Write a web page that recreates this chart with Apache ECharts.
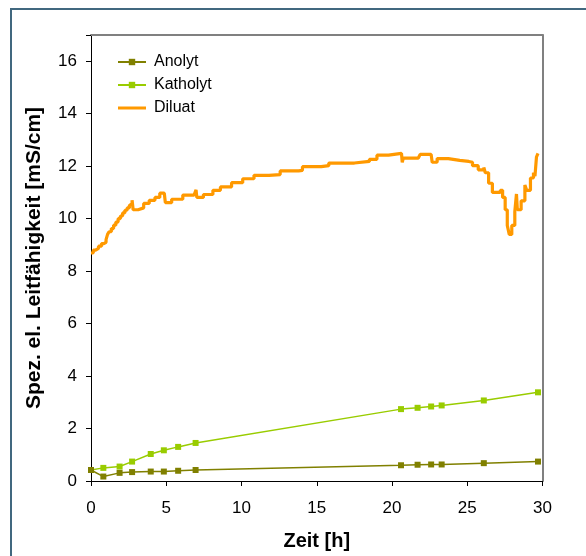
<!DOCTYPE html>
<html>
<head>
<meta charset="utf-8">
<script src="https://cdn.jsdelivr.net/npm/echarts@6/dist/echarts.min.js"></script>
<style>
html,body{margin:0;padding:0;background:#fff;}
#c{width:586px;height:556px;}
</style>
</head>
<body>
<div id="c"></div>
<script>
// ---- data ----
const probeTime = [0, 0.82, 1.9, 2.73, 3.97, 4.84, 5.79, 6.95, 20.6, 21.7, 22.6, 23.3, 26.1, 29.7];
const anolyt    = [0.42, 0.17, 0.31, 0.34, 0.36, 0.36, 0.39, 0.42, 0.60, 0.62, 0.63, 0.63, 0.68, 0.74];
const katholyt  = [0.42, 0.50, 0.55, 0.74, 1.03, 1.17, 1.30, 1.45, 2.74, 2.79, 2.84, 2.88, 3.07, 3.38];

const diluatTime = [0,0.15,0.3,0.5,0.7,0.85,1.0,1.1,1.2,1.35,1.5,1.65,1.8,1.95,2.1,2.25,2.4,2.55,2.65,2.73,
  2.8,3.13,3.5,3.87,4.25,4.57,4.87,4.94,5.36,6.1,
  6.85,6.98,7.03,7.47,8.1,8.6,9.34,10.08,10.83,11.82,12.57,13.8,14.05,15.3,15.8,17.5,18.5,19.0,19.77,20.63,
  20.68,20.75,21.75,21.87,22.6,22.67,23.0,23.74,24.5,25.1,25.35,25.73,26.1,26.2,26.42,26.67,26.97,27.2,27.35,27.52,
  27.66,27.79,27.96,28.16,28.27,28.33,28.58,28.83,28.95,29.2,29.4,29.5,29.6,29.7];
const diluat = [8.69,8.8,8.87,8.95,9.05,9.1,9.2,9.4,9.5,9.62,9.75,9.87,10.0,10.1,10.22,10.32,10.41,10.5,10.57,10.7,
  10.34,10.41,10.58,10.7,10.81,10.97,10.97,10.61,10.74,10.9,
  10.97,11.1,10.81,10.92,11.08,11.21,11.37,11.52,11.65,11.68,11.82,11.84,11.98,12.02,12.12,12.18,12.26,12.42,12.49,12.49,
  12.15,12.31,12.31,12.45,12.45,12.15,12.29,12.22,12.18,12.15,12.02,11.86,11.95,11.75,11.35,11.0,11.0,11.08,10.81,10.34,
  9.74,9.4,9.74,10.27,10.94,10.34,10.68,11.28,11.08,11.55,11.75,11.62,12.35,12.49];

const seriesNames = ['Anolyt', 'Katholyt', 'Diluat'];
const xTitle = 'Zeit [h]';
const yTitle = 'Spez. el. Leitfähigkeit [mS/cm]';

const zip = (xs, ys) => xs.map((x, i) => [x, ys[i]]);
const FONT = '"Liberation Sans", Arial, sans-serif';

const chart = echarts.init(document.getElementById('c'), null, {renderer: 'canvas'});
chart.setOption({
  backgroundColor: '#ffffff',
  animation: false,
  textStyle: {fontFamily: FONT},
  graphic: [{
    type: 'rect', shape: {x: 11, y: 9, width: 700, height: 700},
    style: {fill: 'none', stroke: '#41687f', lineWidth: 2}, silent: true, z: 100
  }],
  grid: {left: 91, right: 43.5, top: 35, bottom: 71.6, containLabel: false},
  legend: {
    orient: 'vertical', left: 117, top: 54, padding: 0,
    itemWidth: 28, itemHeight: 8, itemGap: 7,
    textStyle: {fontFamily: FONT, fontSize: 16, color: '#000', lineHeight: 16, padding: [0, 0, 0, 3]},
    data: [
      {name: seriesNames[0]},
      {name: seriesNames[1]},
      {name: seriesNames[2], icon: 'path://M0,0 L28,0 L28,3 L0,3 Z'}
    ]
  },
  xAxis: [{
    type: 'value', min: 0, max: 30, interval: 5,
    name: xTitle, nameLocation: 'middle', nameGap: 50,
    nameTextStyle: {fontFamily: FONT, fontSize: 20, fontWeight: 'bold', color: '#000'},
    axisLine: {onZero: false, lineStyle: {color: '#000', width: 1}},
    axisTick: {show: true, length: 5, inside: false, lineStyle: {color: '#000'}},
    axisLabel: {fontFamily: FONT, fontSize: 17, color: '#000', margin: 19},
    splitLine: {show: false}
  }, {
    type: 'value', position: 'top', min: 0, max: 30,
    axisLine: {show: true, onZero: false, lineStyle: {color: '#808080', width: 2}},
    axisTick: {show: false}, axisLabel: {show: false}, splitLine: {show: false}
  }],
  yAxis: [{
    type: 'value', min: 0, max: 17, interval: 2,
    name: yTitle, nameLocation: 'middle', nameGap: 46, nameRotate: 90,
    nameTextStyle: {fontFamily: FONT, fontSize: 21, fontWeight: 'bold', color: '#000'},
    axisLine: {show: true, onZero: false, lineStyle: {color: '#000', width: 1}},
    axisTick: {show: true, length: 5, lineStyle: {color: '#000'}},
    axisLabel: {fontFamily: FONT, fontSize: 17, color: '#000', margin: 14,
      formatter: v => (v > 16 ? '' : String(v))},
    splitLine: {show: false}
  }, {
    type: 'value', position: 'right', min: 0, max: 17,
    axisLine: {show: true, onZero: false, lineStyle: {color: '#808080', width: 2}},
    axisTick: {show: false}, axisLabel: {show: false}, splitLine: {show: false}
  }],
  series: [{
    name: seriesNames[0], type: 'line', data: zip(probeTime, anolyt),
    symbol: 'rect', symbolSize: 6, showAllSymbol: true,
    lineStyle: {color: '#808000', width: 1.5}, itemStyle: {color: '#808000'}, z: 3
  }, {
    name: seriesNames[1], type: 'line', data: zip(probeTime, katholyt),
    symbol: 'rect', symbolSize: 6, showAllSymbol: true,
    lineStyle: {color: '#99cc00', width: 1.5}, itemStyle: {color: '#99cc00'}, z: 2
  }, {
    name: seriesNames[2], type: 'line', data: zip(diluatTime, diluat),
    step: 'end', symbol: 'none', showSymbol: false,
    lineStyle: {color: '#ff9900', width: 3.2}, itemStyle: {color: '#ff9900'}, z: 4
  }]
});
</script>
</body>
</html>
